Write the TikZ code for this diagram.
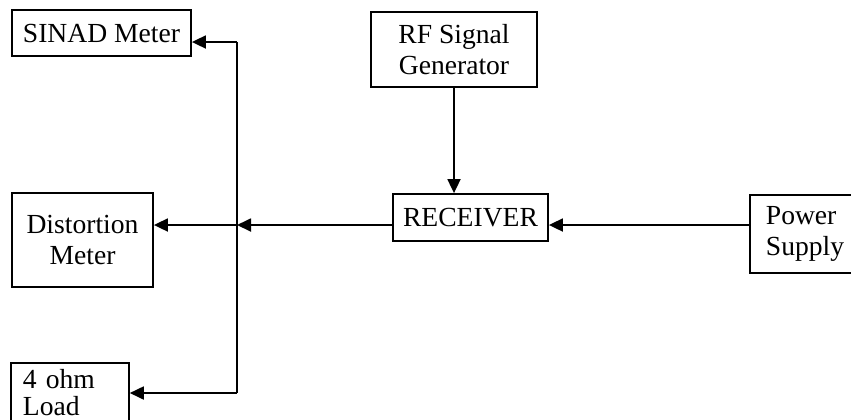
\documentclass[tikz,border=0pt]{standalone}
\usepackage{fontspec}
\setmainfont{Liberation Serif}
\usetikzlibrary{positioning,arrows.meta}

\begin{document}
\begin{tikzpicture}[x=0.5pt,y=-0.5pt,>={Triangle[length=7pt,width=6.5pt]},line width=0.9pt,
  block/.style={draw,fill=white,inner sep=3pt,font=\fontsize{13.8}{15.5}\selectfont}]
  \useasboundingbox (0,0) rectangle (851,419);
  \clip (0,0) rectangle (851,419);
  % boxes
  \node[block,minimum width=89.5pt,minimum height=23pt] (sinad) at (101.5,33) {SINAD Meter};
  \node[block,minimum width=70.5pt,minimum height=47pt,align=center] (dist) at (82.5,240) {Distortion\\Meter};
  \node[block,anchor=north west,inner xsep=6pt,inner ysep=3pt,text width=47pt,
    font=\fontsize{13.8}{13.5}\selectfont] (load) at (10,362) {4 ohm\\Load\\[6pt]};
  \node[block,minimum width=83pt,minimum height=37.5pt,align=center] (rf) at (454,49.5) {RF Signal\\Generator};
  \node[block,minimum width=77.5pt,minimum height=23.5pt] (recv) at (470.5,217.5) {RECEIVER};
  \node[block,anchor=north west,inner xsep=8pt,text width=50pt,minimum height=39pt] (power) at (749,194) {Power\\Supply};
  % junction on the output bus
  \coordinate (jn) at (237,225);
  \coordinate (jtop) at (237,42);
  \coordinate (jbot) at (237,393);
  \draw[->] (rf.south) -- (rf.south |- recv.north);
  \draw[->] (power.west |- jn) -- (recv.east |- jn);
  \draw[->] (recv.west |- jn) -- (jn);
  \draw[->] (jn) -- (dist.east |- jn);
  \draw (jtop) -- (jbot);
  \draw[->] (jtop) -- (sinad.east |- jtop);
  \draw[->] (jbot) -- (load.east |- jbot);
\end{tikzpicture}
\end{document}
